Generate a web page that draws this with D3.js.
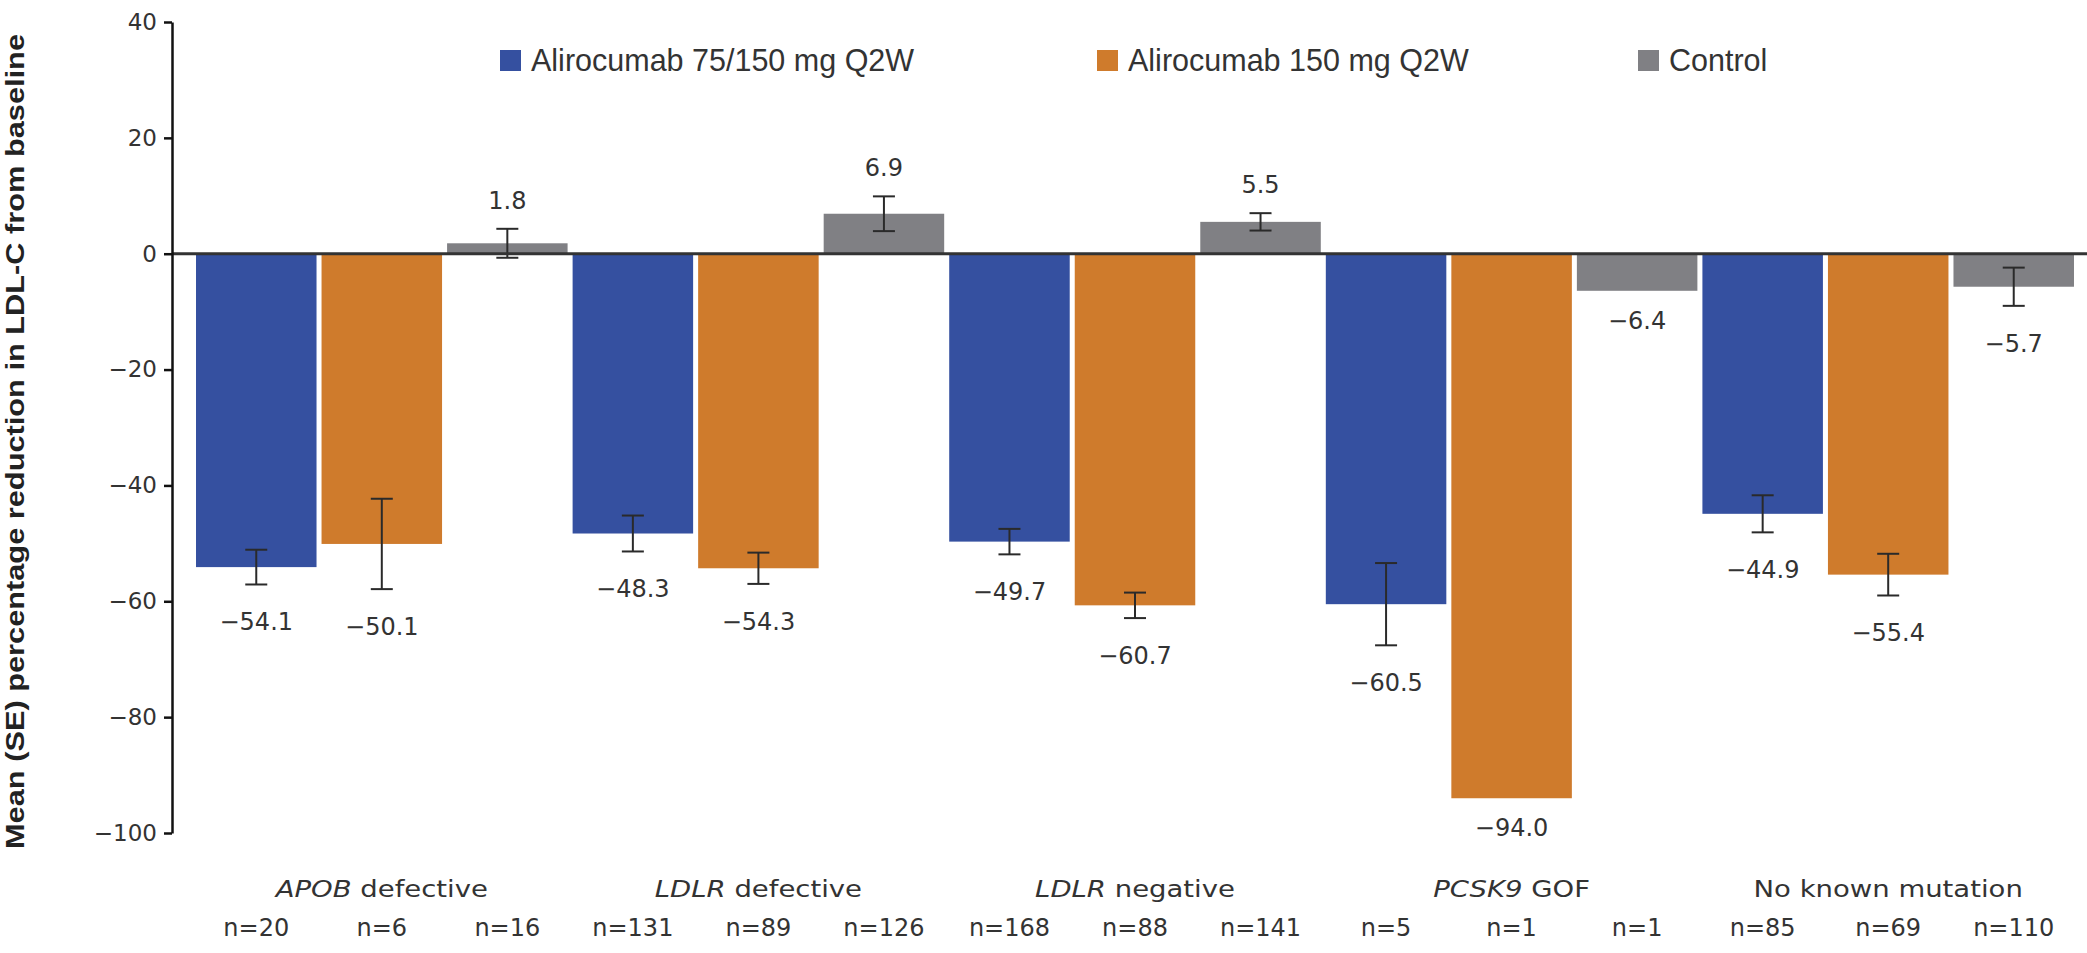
<!DOCTYPE html>
<html><head><meta charset="utf-8">
<script src="https://cdn.jsdelivr.net/npm/d3@7/dist/d3.min.js"></script>
<style>body{margin:0;background:#fff}svg{display:block}</style>
</head><body><svg id="chart" width="2087" height="953"></svg>
<script>
// ---- data ----
const categories = ["APOB defective", "LDLR defective", "LDLR negative", "PCSK9 GOF", "No known mutation"];
const catItalic  = ["APOB", "LDLR", "LDLR", "PCSK9", ""];
const catRest    = [" defective", " defective", " negative", " GOF", "No known mutation"];
const seriesNames = ["Alirocumab 75/150 mg Q2W", "Alirocumab 150 mg Q2W", "Control"];
const mean75   = [-54.1, -48.3, -49.7, -60.5, -44.9];
const mean150  = [-50.1, -54.3, -60.7, -94.0, -55.4];
const meanCtrl = [1.8, 6.9, 5.5, -6.4, -5.7];
const se75   = [3.0, 3.1, 2.2, 7.1, 3.2];
const se150  = [7.8, 2.7, 2.2, null, 3.6];
const seCtrl = [2.5, 3.0, 1.5, null, 3.3];
const n75   = [20, 131, 168, 5, 85];
const n150  = [6, 89, 88, 1, 69];
const nCtrl = [16, 126, 141, 1, 110];
const yTicks = [40, 20, 0, -20, -40, -60, -80, -100];
const yTitle = "Mean (SE) percentage reduction in LDL-C from baseline";

// ---- style ----
const colors = ["#3550a0", "#cf7b2c", "#808084"];
const textColor = "#333";
const valueFont = "'DejaVu Sans', sans-serif";
const legendFont = "'Liberation Sans', Arial, sans-serif";

const means = [mean75, mean150, meanCtrl];
const ses = [se75, se150, seCtrl];
const ns = [n75, n150, nCtrl];
const rows = [];
categories.forEach((c, i) => seriesNames.forEach((s, j) => rows.push({
  cat: c, series: s, j, value: means[j][i], se: ses[j][i], n: ns[j][i]
})));

const svg = d3.select("#chart");
const axisX = 172;
const y = d3.scaleLinear().domain([-100, 40]).range([833, 22]);
const x0 = d3.scaleBand().domain(categories).range([193.5, 2076.5]).padding(0);
const x1 = d3.scaleBand().domain(seriesNames).range([0, x0.bandwidth()]).paddingInner(0.04).paddingOuter(0.02);
const cx = d => x0(d.cat) + x1(d.series) + x1.bandwidth() / 2;

// bars
svg.append("g").selectAll("rect").data(rows).join("rect")
  .attr("x", d => x0(d.cat) + x1(d.series))
  .attr("width", x1.bandwidth())
  .attr("y", d => y(Math.max(0, d.value)))
  .attr("height", d => Math.abs(y(d.value) - y(0)))
  .attr("fill", d => colors[d.j]);

// error bars
const eb = svg.append("g").attr("stroke", "#2a2a2a").attr("stroke-width", 2);
rows.filter(d => d.se != null).forEach(d => {
  const x = cx(d), y1 = y(d.value + d.se), y2 = y(d.value - d.se);
  eb.append("line").attr("x1", x).attr("x2", x).attr("y1", y1).attr("y2", y2);
  eb.append("line").attr("x1", x - 11).attr("x2", x + 11).attr("y1", y1).attr("y2", y1);
  eb.append("line").attr("x1", x - 11).attr("x2", x + 11).attr("y1", y2).attr("y2", y2);
});

// zero line
svg.append("line").attr("x1", axisX).attr("x2", 2087).attr("y1", y(0)).attr("y2", y(0))
  .attr("stroke", "#333").attr("stroke-width", 3);

// y axis
const fmt = d => d < 0 ? "\u2212" + Math.abs(d) : String(d);
const ax = svg.append("g").attr("transform", `translate(${axisX},0)`)
  .call(d3.axisLeft(y).tickValues(yTicks).tickSizeInner(8).tickSizeOuter(0).tickPadding(7).tickFormat(fmt));
ax.select(".domain").attr("stroke", "#111").attr("stroke-width", 2.5);
ax.selectAll(".tick line").attr("stroke", "#111").attr("stroke-width", 2.5);
ax.selectAll(".tick text").attr("font-family", valueFont).attr("font-size", 23).attr("fill", textColor);

// y title
svg.append("text")
  .attr("transform", `translate(24,${(y(40) + y(-100)) / 2 + 14}) rotate(-90)`)
  .attr("text-anchor", "middle")
  .attr("font-family", legendFont).attr("font-weight", "bold").attr("font-size", 26)
  .attr("textLength", 815).attr("lengthAdjust", "spacingAndGlyphs")
  .attr("fill", "#222").text(yTitle);

// value labels
const fmtV = v => (v < 0 ? "\u2212" : "") + Math.abs(v).toFixed(1);
svg.append("g").selectAll("text").data(rows).join("text")
  .attr("x", cx)
  .attr("y", d => d.value >= 0 ? y(d.value + (d.se || 0)) - 20
                               : (d.se != null ? y(d.value - d.se) + 46 : y(d.value) + 38))
  .attr("text-anchor", "middle")
  .attr("font-family", valueFont).attr("font-size", 24).attr("fill", textColor)
  .text(d => fmtV(d.value));

// legend
const legendX = [500, 1097, 1638];
const lg = svg.append("g");
seriesNames.forEach((s, j) => {
  lg.append("rect").attr("x", legendX[j]).attr("y", 50).attr("width", 21).attr("height", 21).attr("fill", colors[j]);
  lg.append("text").attr("x", legendX[j] + 31).attr("y", 71)
    .attr("font-family", legendFont).attr("font-size", 30.5).attr("fill", textColor).text(s);
});

// category labels (slightly stretched horizontally, as in the source)
const cl = svg.append("g").selectAll("text").data(categories).join("text")
  .attr("transform", d => `translate(${x0(d) + x0.bandwidth() / 2},897) scale(1.17,1)`)
  .attr("text-anchor", "middle")
  .attr("font-family", valueFont).attr("font-size", 23.5).attr("fill", textColor);
cl.append("tspan").attr("font-style", "italic").text((d, i) => catItalic[i]);
cl.append("tspan").text((d, i) => catRest[i]);

// n labels
svg.append("g").selectAll("text").data(rows).join("text")
  .attr("x", cx).attr("y", 936)
  .attr("text-anchor", "middle")
  .attr("font-family", valueFont).attr("font-size", 24).attr("fill", textColor)
  .text(d => "n=" + d.n);
</script>
</body></html>
